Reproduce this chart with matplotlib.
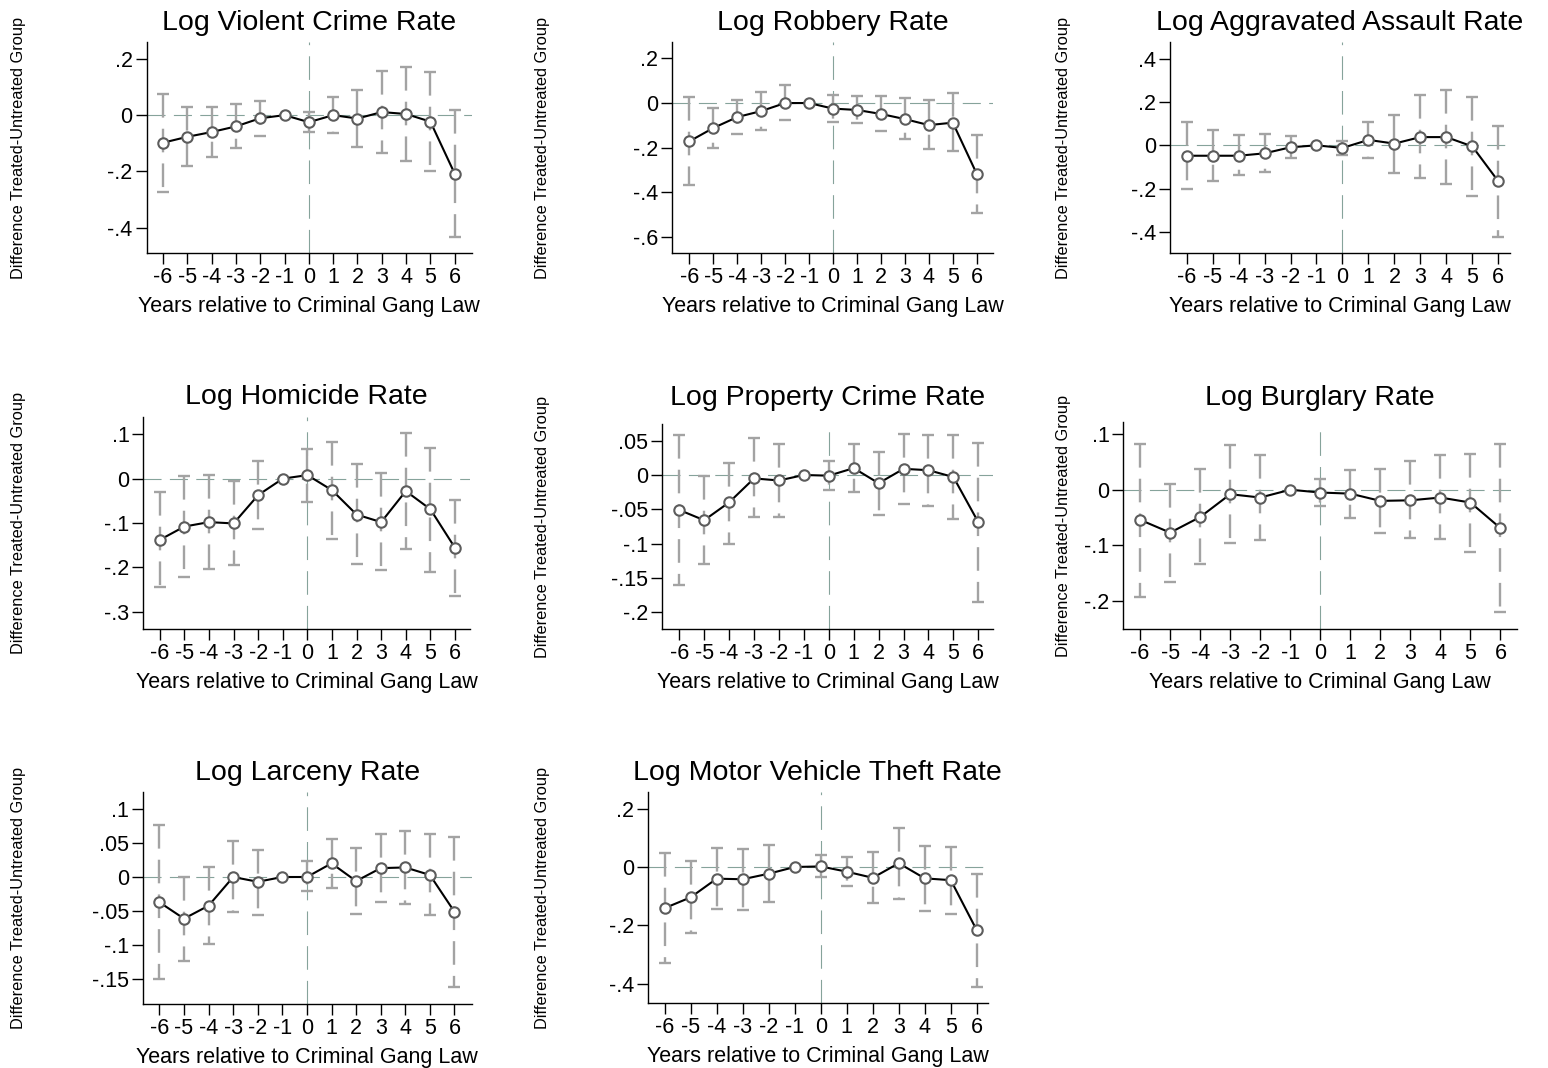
import matplotlib
matplotlib.use("Agg")
import matplotlib.pyplot as plt

plt.rcParams['font.family'] = ['Liberation Sans', 'DejaVu Sans']
plt.rcParams['axes.unicode_minus'] = False
plt.rcParams['lines.scale_dashes'] = False

# ---------------- data ----------------
years = [-6, -5, -4, -3, -2, -1, 0, 1, 2, 3, 4, 5, 6]
xtick_labels = ['-6', '-5', '-4', '-3', '-2', '-1', '0', '1', '2', '3', '4', '5', '6']

violent_coef = [-0.098, -0.077, -0.060, -0.040, -0.011, 0.0, -0.025, 0.0, -0.012, 0.011, 0.004, -0.023, -0.208]
violent_lo = [-0.273, -0.180, -0.150, -0.116, -0.074, 0.0, -0.059, -0.064, -0.113, -0.136, -0.163, -0.200, -0.433]
violent_hi = [0.075, 0.030, 0.030, 0.038, 0.051, 0.0, 0.011, 0.065, 0.089, 0.158, 0.170, 0.155, 0.018]

robbery_coef = [-0.172, -0.112, -0.063, -0.036, 0.0, 0.0, -0.025, -0.031, -0.049, -0.072, -0.099, -0.088, -0.318]
robbery_lo = [-0.369, -0.203, -0.139, -0.121, -0.076, 0.0, -0.084, -0.091, -0.127, -0.163, -0.208, -0.217, -0.495]
robbery_hi = [0.025, -0.021, 0.013, 0.049, 0.079, 0.0, 0.036, 0.031, 0.031, 0.022, 0.013, 0.043, -0.142]

assault_coef = [-0.048, -0.048, -0.048, -0.037, -0.009, 0.0, -0.012, 0.025, 0.008, 0.038, 0.038, -0.005, -0.166]
assault_lo = [-0.200, -0.163, -0.138, -0.123, -0.060, 0.0, -0.046, -0.058, -0.126, -0.152, -0.180, -0.232, -0.422]
assault_hi = [0.106, 0.071, 0.048, 0.054, 0.043, 0.0, 0.022, 0.108, 0.138, 0.234, 0.254, 0.223, 0.089]

homicide_coef = [-0.138, -0.108, -0.098, -0.101, -0.037, 0.0, 0.008, -0.026, -0.081, -0.098, -0.028, -0.069, -0.156]
homicide_lo = [-0.245, -0.221, -0.203, -0.195, -0.113, 0.0, -0.053, -0.135, -0.192, -0.206, -0.158, -0.211, -0.265]
homicide_hi = [-0.029, 0.006, 0.008, -0.005, 0.040, 0.0, 0.067, 0.083, 0.032, 0.012, 0.102, 0.070, -0.048]

property_coef = [-0.051, -0.066, -0.040, -0.005, -0.008, 0.0, -0.001, 0.010, -0.012, 0.009, 0.007, -0.003, -0.069]
property_lo = [-0.160, -0.130, -0.100, -0.062, -0.062, 0.0, -0.022, -0.025, -0.058, -0.042, -0.045, -0.064, -0.185]
property_hi = [0.059, -0.002, 0.018, 0.054, 0.045, 0.0, 0.021, 0.045, 0.034, 0.060, 0.059, 0.058, 0.047]

burglary_coef = [-0.054, -0.077, -0.049, -0.008, -0.014, 0.0, -0.005, -0.007, -0.020, -0.019, -0.014, -0.023, -0.069]
burglary_lo = [-0.192, -0.165, -0.134, -0.095, -0.090, 0.0, -0.029, -0.051, -0.078, -0.087, -0.088, -0.111, -0.220]
burglary_hi = [0.082, 0.011, 0.038, 0.080, 0.063, 0.0, 0.019, 0.036, 0.038, 0.051, 0.063, 0.065, 0.082]

larceny_coef = [-0.037, -0.061, -0.042, 0.0, -0.007, 0.0, 0.0, 0.020, -0.006, 0.013, 0.014, 0.003, -0.051]
larceny_lo = [-0.149, -0.123, -0.098, -0.051, -0.055, 0.0, -0.021, -0.016, -0.054, -0.036, -0.039, -0.055, -0.161]
larceny_hi = [0.076, 0.0005, 0.015, 0.053, 0.040, 0.0, 0.023, 0.055, 0.042, 0.063, 0.068, 0.063, 0.059]

mvt_coef = [-0.141, -0.104, -0.040, -0.042, -0.023, 0.0, 0.002, -0.016, -0.037, 0.013, -0.039, -0.045, -0.217]
mvt_lo = [-0.330, -0.227, -0.145, -0.147, -0.119, 0.0, -0.034, -0.065, -0.122, -0.110, -0.150, -0.160, -0.411]
mvt_hi = [0.049, 0.019, 0.066, 0.063, 0.074, 0.0, 0.041, 0.033, 0.051, 0.135, 0.073, 0.070, -0.024]

titles = ["Log Violent Crime Rate", "Log Robbery Rate", "Log Aggravated Assault Rate",
          "Log Homicide Rate", "Log Property Crime Rate", "Log Burglary Rate",
          "Log Larceny Rate", "Log Motor Vehicle Theft Rate"]

yticks_violent = [0.2, 0.0, -0.2, -0.4]
yticks_robbery = [0.2, 0.0, -0.2, -0.4, -0.6]
yticks_assault = [0.4, 0.2, 0.0, -0.2, -0.4]
yticks_homicide = [0.1, 0.0, -0.1, -0.2, -0.3]
yticks_property = [0.05, 0.0, -0.05, -0.1, -0.15, -0.2]
yticks_burglary = [0.1, 0.0, -0.1, -0.2]
yticks_larceny = [0.1, 0.05, 0.0, -0.05, -0.1, -0.15]
yticks_mvt = [0.2, 0.0, -0.2, -0.4]

ylims = [(-0.49, 0.26), (-0.673, 0.274), (-0.497, 0.477), (-0.339, 0.139),
         (-0.2247, 0.0744), (-0.25, 0.1216), (-0.186, 0.1245), (-0.466, 0.257)]
xlims = [(-6.68, 6.7), (-6.71, 6.69), (-6.64, 6.45), (-6.67, 6.61),
         (-6.68, 6.6), (-6.56, 6.55), (-6.68, 6.7), (-6.65, 6.43)]

xlabel = "Years relative to Criminal Gang Law"
ylabel = "Difference Treated-Untreated Group"

panels = [
    (violent_coef, violent_lo, violent_hi, yticks_violent),
    (robbery_coef, robbery_lo, robbery_hi, yticks_robbery),
    (assault_coef, assault_lo, assault_hi, yticks_assault),
    (homicide_coef, homicide_lo, homicide_hi, yticks_homicide),
    (property_coef, property_lo, property_hi, yticks_property),
    (burglary_coef, burglary_lo, burglary_hi, yticks_burglary),
    (larceny_coef, larceny_lo, larceny_hi, yticks_larceny),
    (mvt_coef, mvt_lo, mvt_hi, yticks_mvt),
]

# ---------------- layout (pixels: left, right, top, bottom) ----------------
W, H = 1548, 1068
boxes = [(146.5, 471.7, 42, 253), (672.3, 993.3, 42, 253), (1170, 1510, 42, 253),
         (143.3, 470, 417, 629), (662.3, 993.3, 424, 629), (1123.3, 1517, 422, 629),
         (142.7, 471.7, 792, 1004), (647.7, 988, 792, 1003)]
row_top = [42, 42, 42, 417, 417, 417, 792, 792]
ylabel_x = [26, 550, 1071, 26, 550, 1071, 26, 550]

def stata_fmt(v):
    if abs(v) < 1e-12:
        return '0'
    s = f"{v:g}"
    return s.replace('0.', '.')

ERR = '#a3a3a3'
REF = '#86a39b'
MEC = '#5c5c5c'

fig = plt.figure(figsize=(W / 100, H / 100), dpi=100)

for i, (coef, lo, hi, yt) in enumerate(panels):
    l, r, t, b = boxes[i]
    ax = fig.add_axes([l / W, 1 - b / H, (r - l) / W, (b - t) / H])
    ax.set_xlim(*xlims[i])
    ax.set_ylim(*ylims[i])
    for s in ['top', 'right']:
        ax.spines[s].set_visible(False)
    for s in ['left', 'bottom']:
        ax.spines[s].set_linewidth(1.0)
        ax.spines[s].set_color('black')

    ax.axhline(0, color=REF, lw=0.8, ls=(0, (13, 6)), zorder=1)
    ax.axvline(0, color=REF, lw=0.8, ls=(0, (17, 8)), zorder=1)

    ax.vlines(years, hi, lo, colors=ERR, linewidth=1.7,
              linestyles=[(0, (17, 8))], zorder=2)
    ax.plot(years, hi, ls='none', marker='_', ms=8.6, mew=1.7, color=ERR, zorder=2)
    ax.plot(years, lo, ls='none', marker='_', ms=8.6, mew=1.7, color=ERR, zorder=2)

    ax.plot(years, coef, color='black', lw=1.5, zorder=3)
    ax.plot(years, coef, ls='none', marker='o', ms=7.5, mfc='white', mec=MEC, mew=1.5, zorder=4)

    ax.set_xticks(years)
    ax.set_xticklabels(xtick_labels)
    ax.set_yticks(yt)
    ax.set_yticklabels([stata_fmt(v) for v in yt])
    ax.tick_params(axis='both', direction='out', length=8, width=1.0, labelsize=15.5, pad=2, colors='black')

    ax.set_title(titles[i], fontsize=20.5, pad=9 + (t - row_top[i]) * 0.72)
    ax.set_xlabel(xlabel, fontsize=15.5, labelpad=5.5)
    ax.set_ylabel(ylabel, fontsize=11.8)
    ax.yaxis.set_label_coords(ylabel_x[i] / W, 1 - (t + b) / 2 / H, transform=fig.transFigure)

fig.savefig('out.png', dpi=100)
